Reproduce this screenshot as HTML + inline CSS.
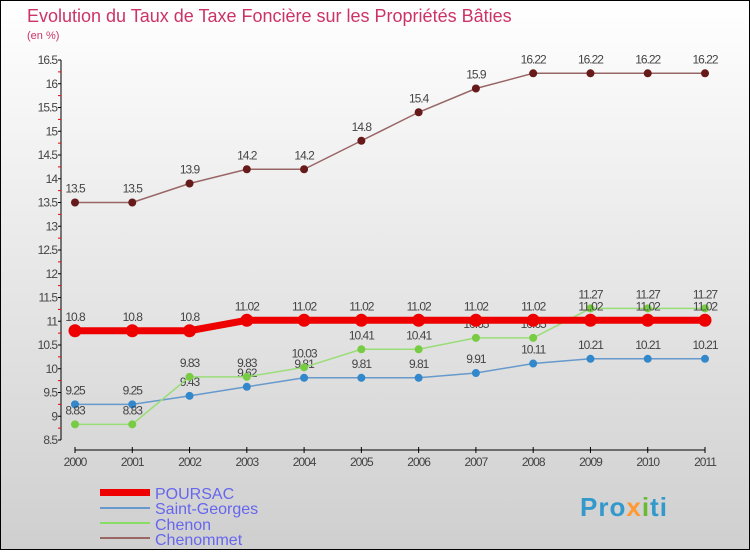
<!DOCTYPE html>
<html><head><meta charset="utf-8"><style>
body{margin:0;}
svg text{font-family:"Liberation Sans",sans-serif;}
</style></head><body>
<svg width="750" height="550" xmlns="http://www.w3.org/2000/svg">
<defs><linearGradient id="bg" x1="0" y1="0" x2="0" y2="1"><stop offset="0" stop-color="#ffffff"/><stop offset="1" stop-color="#cfcfcf"/></linearGradient></defs>
<rect x="0.5" y="0.5" width="749" height="549" fill="url(#bg)" stroke="#000"/>
<text x="27" y="22" font-size="18" fill="#cc3366">Evolution du Taux de Taxe Foncière sur les Propriétés Bâties</text>
<text x="27" y="39" font-size="11" fill="#cc3366">(en %)</text>
<g id="axes"></g><g id="series"></g>
<g>
<rect x="100" y="489" width="50" height="7" fill="#ee0000"/>
<text x="155" y="499" font-size="16" fill="#6666ee">POURSAC</text>
<rect x="100" y="507" width="50" height="2" fill="#6699cc"/>
<text x="155" y="514" font-size="16" fill="#6666ee">Saint-Georges</text>
<rect x="100" y="522" width="50" height="2" fill="#88dd66"/>
<text x="155" y="530" font-size="16" fill="#6666ee">Chenon</text>
<rect x="100" y="537" width="50" height="2" fill="#996666"/>
<text x="155" y="545" font-size="16" fill="#6666ee">Chenommet</text>
</g>
<g><text x="580" y="516" font-size="26" font-weight="bold" fill="#3399cc" letter-spacing="1">Pro<tspan fill="#ff9933">x</tspan><tspan fill="#66bb33">i</tspan>ti</text></g>
</svg>
<script>
const years=[2000,2001,2002,2003,2004,2005,2006,2007,2008,2009,2010,2011];
const poursac=[10.8,10.8,10.8,11.02,11.02,11.02,11.02,11.02,11.02,11.02,11.02,11.02];
const saintGeorges=[9.25,9.25,9.43,9.62,9.81,9.81,9.81,9.91,10.11,10.21,10.21,10.21];
const chenon=[8.83,8.83,9.83,9.83,10.03,10.41,10.41,10.65,10.65,11.27,11.27,11.27];
const chenommet=[13.5,13.5,13.9,14.2,14.2,14.8,15.4,15.9,16.22,16.22,16.22,16.22];
const yTicks=[8.5,9,9.5,10,10.5,11,11.5,12,12.5,13,13.5,14,14.5,15,15.5,16,16.5];
const NS='http://www.w3.org/2000/svg';
const X=i=>75+i*(630/11);
const Y=v=>440-(v-8.5)*(380/8);
function mk(tag,attrs,parent){const e=document.createElementNS(NS,tag);for(const k in attrs)e.setAttribute(k,attrs[k]);parent.appendChild(e);return e;}
const ax=document.getElementById('axes');
let l=mk('line',{x1:61,y1:Y(16.5),x2:61,y2:Y(8.5),stroke:'#000'},ax);


l=mk('line',{x1:75,y1:450,x2:705,y2:450,stroke:'#000'},ax);


yTicks.forEach((v,i)=>{
 mk('line',{x1:58,x2:61,y1:Y(v),y2:Y(v),stroke:'#000'},ax);
 if(i<yTicks.length-1) mk('line',{x1:58,x2:61,y1:Y(v+0.25),y2:Y(v+0.25),stroke:'#e00'},ax);
 const t=mk('text',{x:57,y:Y(v)+4,'font-size':12,'text-anchor':'end',fill:'#444','letter-spacing':'-1'},ax);
 t.textContent=String(v);
 
 
});
years.forEach((y,i)=>{
 mk('line',{x1:X(i),x2:X(i),y1:447,y2:453,stroke:'#000'},ax);
 const t=mk('text',{x:X(i),y:466,'font-size':12,'text-anchor':'middle',fill:'#444','letter-spacing':'-1'},ax);
 t.textContent=String(y);
 
 
});
const sg=document.getElementById('series');
function series(data,name,color,dot,w,r,labels){
 const g=mk('g',{},sg);
 
 
 const p=mk('polyline',{points:data.map((v,i)=>X(i)+','+Y(v)).join(' '),fill:'none',stroke:color,'stroke-width':w},g);
 
 
 data.forEach((v,i)=>{
  const c=mk('circle',{cx:X(i),cy:Y(v),r:r,fill:dot},g);
  
  
  if(labels){const t=mk('text',{x:X(i),y:Y(v)-10,'font-size':12,'text-anchor':'middle',fill:'#444','letter-spacing':'-1'},g);
  t.textContent=String(v);
  
  }
 });
}
series(chenommet,'chenommet','#996666','#661a1a',1.5,4,true);
series(saintGeorges,'saint-georges','#6699cc','#3388cc',1.5,4,true);
series(chenon,'chenon','#99dd77','#77cc44',1.5,4,true);
series(poursac,'poursac','#ee0000','#ee0000',7,6.5,true);
</script>
</body></html>
